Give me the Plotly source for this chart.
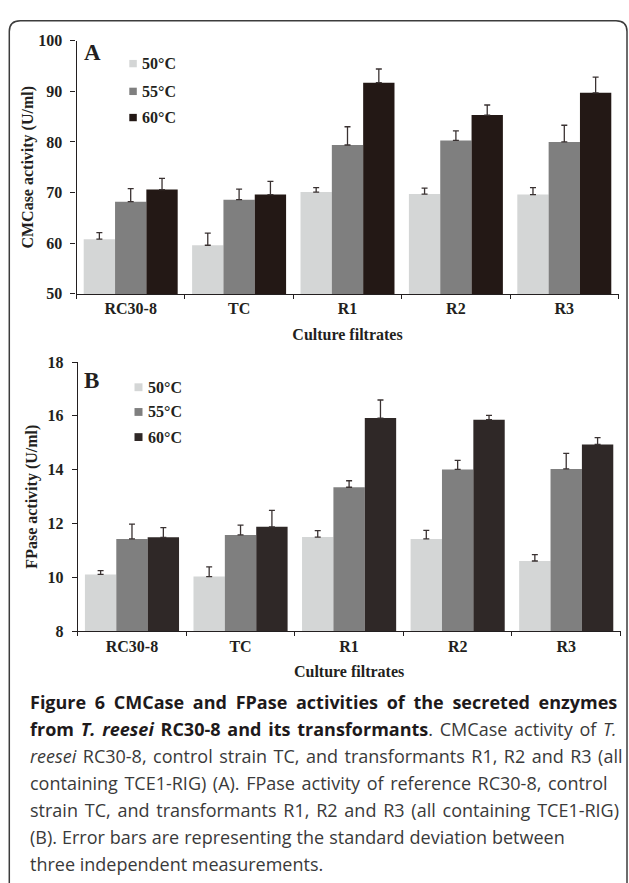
import plotly.graph_objects as go

W, H = 629, 883

categories = ["RC30-8", "TC", "R1", "R2", "R3"]
series_names = ["50°C", "55°C", "60°C"]

# Panel A: CMCase activity (U/ml)
cmc_50 = [60.8, 59.6, 70.1, 69.7, 69.6]
cmc_55 = [68.2, 68.6, 79.4, 80.3, 80.0]
cmc_60 = [70.6, 69.6, 91.7, 85.3, 89.7]
cmc_50_err = [1.3, 2.4, 0.9, 1.2, 1.4]
cmc_55_err = [2.6, 2.1, 3.6, 1.9, 3.3]
cmc_60_err = [2.2, 2.6, 2.7, 2.0, 3.1]

# Panel B: FPase activity (U/ml)
fp_50 = [10.11, 10.03, 11.50, 11.43, 10.61]
fp_55 = [11.43, 11.58, 13.35, 14.01, 14.03]
fp_60 = [11.49, 11.88, 15.92, 15.86, 14.94]
fp_50_err = [0.14, 0.36, 0.24, 0.32, 0.24]
fp_55_err = [0.55, 0.36, 0.24, 0.34, 0.58]
fp_60_err = [0.36, 0.61, 0.67, 0.16, 0.25]

y_ticks_a = [50, 60, 70, 80, 90, 100]
y_ticks_b = [8, 10, 12, 14, 16, 18]

colors_a = ["#d4d6d6", "#7f7f7f", "#231815"]
colors_b = ["#d4d6d6", "#7f7f7f", "#2f2827"]

BOLD_INK = "#1e1a1b"
caption_lines = [
    f"<span style='color:{BOLD_INK}'><b>Figure 6 CMCase and FPase activities of the secreted enzymes</b></span>",
    f"<span style='color:{BOLD_INK}'><b>from <i>T. reesei</i> RC30-8 and its transformants</b></span>. CMCase activity of <i>T.</i>",
    "<i>reesei</i> RC30-8, control strain TC, and transformants R1, R2 and R3 (all",
    "containing TCE1-RIG) (A). FPase activity of reference RC30-8, control",
    "strain TC, and transformants R1, R2 and R3 (all containing TCE1-RIG)",
    "(B). Error bars are representing the standard deviation between",
    "three independent measurements.",
]
# extra word spacing (px) to imitate the justified caption lines
caption_word_spacing = [4.0, 2.1, 1.8, 1.9, 2.1, 0.3, 0.0]


def px(x):
    return x / W


def py(y):
    return 1 - y / H


SERIF = "Liberation Serif"
INK = "#231f20"
ERR = "#3a3232"

fig = go.Figure()

panel_a = [(cmc_50, cmc_50_err), (cmc_55, cmc_55_err), (cmc_60, cmc_60_err)]
panel_b = [(fp_50, fp_50_err), (fp_55, fp_55_err), (fp_60, fp_60_err)]

for i, (vals, err) in enumerate(panel_a):
    fig.add_trace(go.Bar(
        x=categories, y=vals, name=series_names[i], xaxis="x", yaxis="y",
        marker=dict(color=colors_a[i], line=dict(width=0)),
        error_y=dict(type="data", symmetric=False, array=err,
                     arrayminus=[0] * len(err), color=ERR, thickness=1.3, width=3),
        showlegend=False,
    ))
for i, (vals, err) in enumerate(panel_b):
    fig.add_trace(go.Bar(
        x=categories, y=vals, name=series_names[i], xaxis="x2", yaxis="y2",
        marker=dict(color=colors_b[i], line=dict(width=0)),
        error_y=dict(type="data", symmetric=False, array=err,
                     arrayminus=[0] * len(err), color=ERR, thickness=1.3, width=3),
        showlegend=False,
    ))

tickfont = dict(family=SERIF, size=16, color=INK, weight="bold")
titlefont = dict(family=SERIF, size=16, color=INK, weight="bold")

common_x = dict(
    type="category", showline=True, linecolor=INK, linewidth=1.2,
    ticks="outside", tickson="boundaries", ticklen=4, tickcolor=INK, tickwidth=1.2,
    tickfont=tickfont, showgrid=False, zeroline=False, fixedrange=True,
)
common_y = dict(
    showline=True, linecolor=INK, linewidth=1.2, ticks="outside", ticklen=5,
    tickcolor=INK, tickwidth=1.2, tickfont=tickfont, showgrid=False,
    zeroline=False, fixedrange=True, ticklabelstandoff=5,
)

fig.update_layout(
    width=W, height=H, margin=dict(l=0, r=0, t=0, b=0),
    paper_bgcolor="white", plot_bgcolor="white",
    barmode="group", bargap=0.133, bargroupgap=0,
    xaxis=dict(common_x, domain=[px(76.5), px(618.5)], anchor="y",
               title=dict(text="Culture filtrates", font=titlefont, standoff=12)),
    yaxis=dict(common_y, domain=[py(291.5), py(33.3)], anchor="x", range=[50, 100],
               tickvals=y_ticks_a,
               title=dict(text="CMCase activity (U/ml)", font=titlefont, standoff=0)),
    xaxis2=dict(common_x, domain=[px(77.7), px(620.5)], anchor="y2",
                title=dict(text="Culture filtrates", font=titlefont, standoff=12)),
    yaxis2=dict(common_y, domain=[py(635.5), py(361)], anchor="x2", range=[8, 18],
                tickvals=y_ticks_b,
                title=dict(text="FPase activity (U/ml)", font=titlefont, standoff=5)),
)

annotations = []
shapes = []

# panel letters
annotations.append(dict(text="A", x=px(82), y=py(45), xref="paper", yref="paper",
                        xanchor="left", yanchor="middle", showarrow=False,
                        font=dict(family=SERIF, size=23, color=INK, weight="bold")))
annotations.append(dict(text="B", x=px(82), y=py(380), xref="paper", yref="paper",
                        xanchor="left", yanchor="middle", showarrow=False,
                        font=dict(family=SERIF, size=23, color=INK, weight="bold")))

# legends (key squares + labels)
legend_specs = [
    (129.3, 7.5, 140.0, [56.7, 85.0, 111.7], colors_a),
    (134.5, 8.0, 145.5, [386.7, 411.9, 437.5], colors_b),
]
for sx, ss, tx, rows, cols in legend_specs:
    for name, ry, col in zip(series_names, rows, cols):
        shapes.append(dict(type="rect", xref="paper", yref="paper",
                           x0=px(sx), x1=px(sx + ss), y0=py(ry + ss / 2), y1=py(ry - ss / 2),
                           fillcolor=col, line=dict(width=0)))
        annotations.append(dict(text=name, x=px(tx), y=py(ry), xref="paper", yref="paper",
                                xanchor="left", yanchor="middle", showarrow=False,
                                font=dict(family=SERIF, size=16, color=INK, weight="bold")))

# caption
cap_y = [708, 735.5, 763, 790.5, 818, 845.5, 873]
for line, ws, yy in zip(caption_lines, caption_word_spacing, cap_y):
    annotations.append(dict(text=f"<span style='word-spacing:{ws}px'>{line}</span>",
                            x=px(28), y=py(yy), xref="paper", yref="paper",
                            xanchor="left", yanchor="middle", showarrow=False, align="left",
                            font=dict(family="Open Sans", size=18, color="#3a3a3a")))

# rounded frame around the figure
x0, x1, yt, yb, r = px(9.3), px(627), py(13), py(900), 11
rx, ry_ = r / W, r / H
path = (f"M {x0},{yb} L {x0},{yt - ry_} Q {x0},{yt} {x0 + rx},{yt} "
        f"L {x1 - rx},{yt} Q {x1},{yt} {x1},{yt - ry_} L {x1},{yb}")
shapes.append(dict(type="path", path=path, xref="paper", yref="paper",
                   line=dict(color="#3c3c3c", width=1.5)))

fig.update_layout(annotations=annotations, shapes=shapes)

fig.write_html("out.html", config={"displayModeBar": False},
               post_script="document.body.style.margin='0px';")
